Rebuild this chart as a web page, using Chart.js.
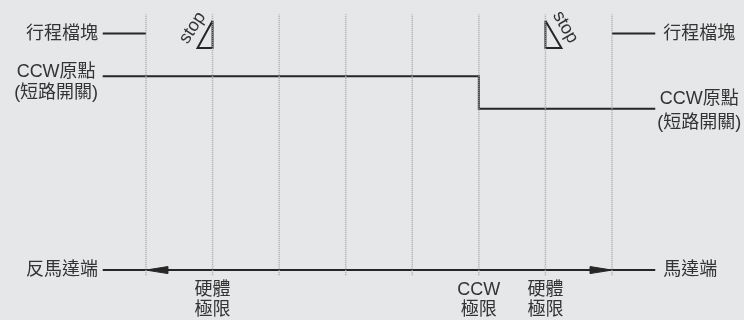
<!DOCTYPE html>
<html>
<head>
<meta charset="utf-8">
<script src="https://cdn.jsdelivr.net/npm/chart.js@4.4.1/dist/chart.umd.min.js"></script>
<style>
html, body { margin: 0; padding: 0; background: #e6e7e9; }
#wrap { width: 744px; height: 320px; }
canvas { display: block; }
</style>
</head>
<body>
<div id="wrap"><canvas id="chart" width="744" height="320"></canvas></div>
<script>
// Timing diagram: stop block, CCW origin switch and the motor travel range.
// x = guide index (dotted verticals at 0..7), y = row level (10 top, 0 bottom).

const gridX = [0, 1, 2, 3, 4, 5, 6, 7];
const gridY = [1.4, 9.55];

const lineStartX = -0.65;
const lineEndX = 7.65;

// stop block row
const stopRowY = 8.95;
const stopLeftX = [lineStartX, 0];
const stopRightX = [7, lineEndX];

// CCW origin (short-circuit switch): high until guide 5, then low
const ccwStepX = [lineStartX, 5, lineEndX];
const ccwLevel = [7.62, 6.6, 6.6];

// motor travel row, arrow tips at guide 0 (left) and guide 7 (right)
const motorRowY = 1.56;
const motorX = [lineStartX, lineEndX];
const arrowTipX = [0, 7];

// stop triangles (outline)
const stopTriLeft = { x: [1, 0.775, 1, 1], y: [9.35, 8.5, 8.5, 9.35] };
const stopTriRight = { x: [6, 6, 6.24, 6], y: [9.35, 8.5, 8.5, 9.35] };

const labels = [
    { text: "行程檔塊", x: -0.72, y: 8.95, align: "right" },
    { text: "CCW原點", x: -1.35, y: 7.75 },
    { text: "(短路開關)", x: -1.35, y: 7.09 },
    { text: "反馬達端", x: -0.72, y: 1.56, align: "right" },
    { text: "行程檔塊", x: 7.77, y: 8.95, align: "left" },
    { text: "CCW原點", x: 8.31, y: 6.9 },
    { text: "(短路開關)", x: 8.31, y: 6.16 },
    { text: "馬達端", x: 7.77, y: 1.56, align: "left" },
    { text: "硬體", x: 1, y: 0.94 },
    { text: "極限", x: 1, y: 0.31 },
    { text: "CCW", x: 5, y: 0.94 },
    { text: "極限", x: 5, y: 0.31 },
    { text: "硬體", x: 6, y: 0.94 },
    { text: "極限", x: 6, y: 0.31 },
    { text: "stop", x: 0.7, y: 9.13, rot: -57 },
    { text: "stop", x: 6.3, y: 9.15, rot: 60 }
];

const INK = "#262626";
const TEXT = "#333333";
const GUIDE = "#ababab";
const FONT = '18px "Liberation Sans", "Noto Sans CJK TC", sans-serif';

function seg(xs, ys, extra) {
    return Object.assign({
        data: xs.map((v, i) => ({ x: v, y: ys[i] })),
        showLine: true,
        borderColor: INK,
        borderWidth: 2,
        pointRadius: 0,
        fill: false,
        tension: 0
    }, extra || {});
}

const datasets = [];

gridX.forEach(g => {
    datasets.push(seg([g, g], gridY, { borderColor: GUIDE, borderWidth: 1.5, borderDash: [1, 1] }));
});

datasets.push(seg(stopLeftX, [stopRowY, stopRowY]));
datasets.push(seg(stopRightX, [stopRowY, stopRowY]));
// Chart.js "before": horizontal run first, then the vertical step at the next point
datasets.push(seg(ccwStepX, ccwLevel, { stepped: "before" }));
datasets.push(seg(motorX, [motorRowY, motorRowY]));

// arrowheads: long thin filled triangles
const arrowLen = 0.33, arrowHalf = 0.11;
arrowTipX.forEach((tip, i) => {
    const dir = i === 0 ? 1 : -1;
    const base = tip + dir * arrowLen;
    datasets.push(seg(
        [base, tip, base, base],
        [motorRowY + arrowHalf, motorRowY, motorRowY - arrowHalf, motorRowY + arrowHalf],
        { fill: "shape", backgroundColor: INK, borderWidth: 1 }
    ));
});

datasets.push(seg(stopTriLeft.x, stopTriLeft.y, { borderJoinStyle: "miter" }));
datasets.push(seg(stopTriRight.x, stopTriRight.y, { borderJoinStyle: "miter" }));

const textPlugin = {
    id: "diagramText",
    afterDatasetsDraw(chart) {
        const { ctx, scales: { x, y } } = chart;
        ctx.save();
        ctx.fillStyle = TEXT;
        ctx.font = FONT;
        ctx.textBaseline = "middle";
        for (const t of labels) {
            ctx.save();
            ctx.translate(x.getPixelForValue(t.x), y.getPixelForValue(t.y));
            if (t.rot) ctx.rotate(t.rot * Math.PI / 180);
            ctx.textAlign = t.align || "center";
            ctx.fillText(t.text, 0, 0);
            ctx.restore();
        }
        ctx.restore();
    }
};

new Chart(document.getElementById("chart"), {
    type: "scatter",
    data: { datasets },
    options: {
        responsive: false,
        animation: false,
        devicePixelRatio: 1,
        layout: { padding: 0 },
        plugins: { legend: { display: false }, tooltip: { enabled: false } },
        scales: {
            x: { type: "linear", display: false, min: -2.193, max: 8.983 },
            y: { type: "linear", display: false, min: 0, max: 10 }
        }
    },
    plugins: [textPlugin]
});
</script>
</body>
</html>
